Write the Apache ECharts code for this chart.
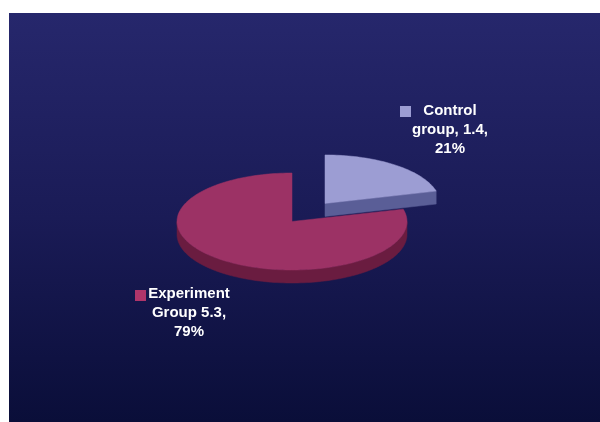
<!DOCTYPE html>
<html><head><meta charset="utf-8">
<script src="https://cdn.jsdelivr.net/npm/echarts@6/dist/echarts.min.js"></script>
<style>html,body{margin:0;padding:0;background:#fff;overflow:hidden}#c{width:600px;height:422px}</style>
</head><body><div id="c"></div>
<script>
// ---- data ----
const categories = ['Control group', 'Experiment Group'];
const values = [1.4, 5.3];
const labelPrefixes = ['Control\ngroup, ', 'Experiment\nGroup '];
const explodeFactors = [0.47, 0];

// ---- style / layout ----
const topColors = ['#9c9dd3', '#9c3265'];
const sideColors = ['#5a5e97', '#6a1c40'];
const keyColors = ['#9c9dd3', '#b0356a'];
const CX = 292, CY = 221.5, RX = 115, RY = 48.5, DEPTH = 13;
const labelPos = [[450, 130], [189, 313]];
const keyPos = [[400, 106], [135, 290]];
const KEY = 11;

const total = values.reduce((a, b) => a + b, 0);

function renderItem(params, api) {
  const i = params.dataIndex;
  let start = 90;
  for (let k = 0; k < i; k++) start -= values[k] / total * 360;
  const end = start - values[i] / total * 360;
  const mid = (start + end) / 2 * Math.PI / 180;
  const cx = CX + explodeFactors[i] * RX * Math.cos(mid);
  const cy = CY - explodeFactors[i] * RY * Math.sin(mid);
  const pt = (deg, dy) => { const r = deg * Math.PI / 180; return [cx + RX * Math.cos(r), cy - RY * Math.sin(r) + (dy || 0)]; };
  const arc = (a, b, dy) => {
    const n = Math.max(2, Math.ceil(Math.abs(a - b) / 1.5));
    const pts = [];
    for (let j = 0; j <= n; j++) pts.push(pt(a + (b - a) * j / n, dy));
    return pts;
  };
  const children = [];
  // outer side wall (front half only)
  for (let k = -2; k <= 1; k++) {
    const lo = Math.max(end, -180 + 360 * k), hi = Math.min(start, 360 * k);
    if (hi > lo) {
      const topPts = arc(hi, lo, 0);
      const botPts = arc(lo, hi, DEPTH);
      children.push({ type: 'polygon', shape: { points: topPts.concat(botPts) }, style: { fill: sideColors[i], stroke: sideColors[i], lineWidth: 0.5 } });
    }
  }
  // radial walls
  const er = end * Math.PI / 180, sr = start * Math.PI / 180;
  if (Math.cos(er) > 0.01) {
    children.push({ type: 'polygon', shape: { points: [[cx, cy], pt(end), pt(end, DEPTH), [cx, cy + DEPTH]] }, style: { fill: sideColors[i], stroke: sideColors[i], lineWidth: 0.5 } });
  }
  if (Math.cos(sr) < -0.01) {
    children.push({ type: 'polygon', shape: { points: [[cx, cy], pt(start), pt(start, DEPTH), [cx, cy + DEPTH]] }, style: { fill: sideColors[i], stroke: sideColors[i], lineWidth: 0.5 } });
  }
  // top face
  children.push({ type: 'polygon', shape: { points: [[cx, cy]].concat(arc(start, end, 0)) }, style: { fill: topColors[i], stroke: topColors[i], lineWidth: 0.5 } });
  // label
  const pct = Math.round(values[i] / total * 100);
  children.push({
    type: 'text', x: labelPos[i][0], y: labelPos[i][1],
    style: { text: labelPrefixes[i] + values[i].toFixed(1) + ',\n' + pct + '%', fill: '#ffffff', font: 'bold 15px "Liberation Sans", Arial, sans-serif', align: 'center', verticalAlign: 'middle', lineHeight: 19 }
  });
  children.push({ type: 'rect', shape: { x: keyPos[i][0], y: keyPos[i][1], width: KEY, height: KEY }, style: { fill: keyColors[i] } });
  return { type: 'group', children };
}

const chart = echarts.init(document.getElementById('c'), null, { renderer: 'canvas' });
chart.setOption({
  animation: false,
  backgroundColor: '#ffffff',
  graphic: [{
    type: 'rect', z: -10,
    shape: { x: 9, y: 13, width: 591, height: 409 },
    style: { fill: new echarts.graphic.LinearGradient(0, 0, 0, 1, [{ offset: 0, color: '#26276c' }, { offset: 0.5, color: '#1a1b56' }, { offset: 1, color: '#0a0e39' }]) }
  }],
  series: [{
    type: 'custom',
    name: 'Groups',
    coordinateSystem: 'none',
    data: values.map((v, i) => ({ name: categories[i], value: [i, v] })),
    renderItem: renderItem
  }]
});
</script>
</body></html>
